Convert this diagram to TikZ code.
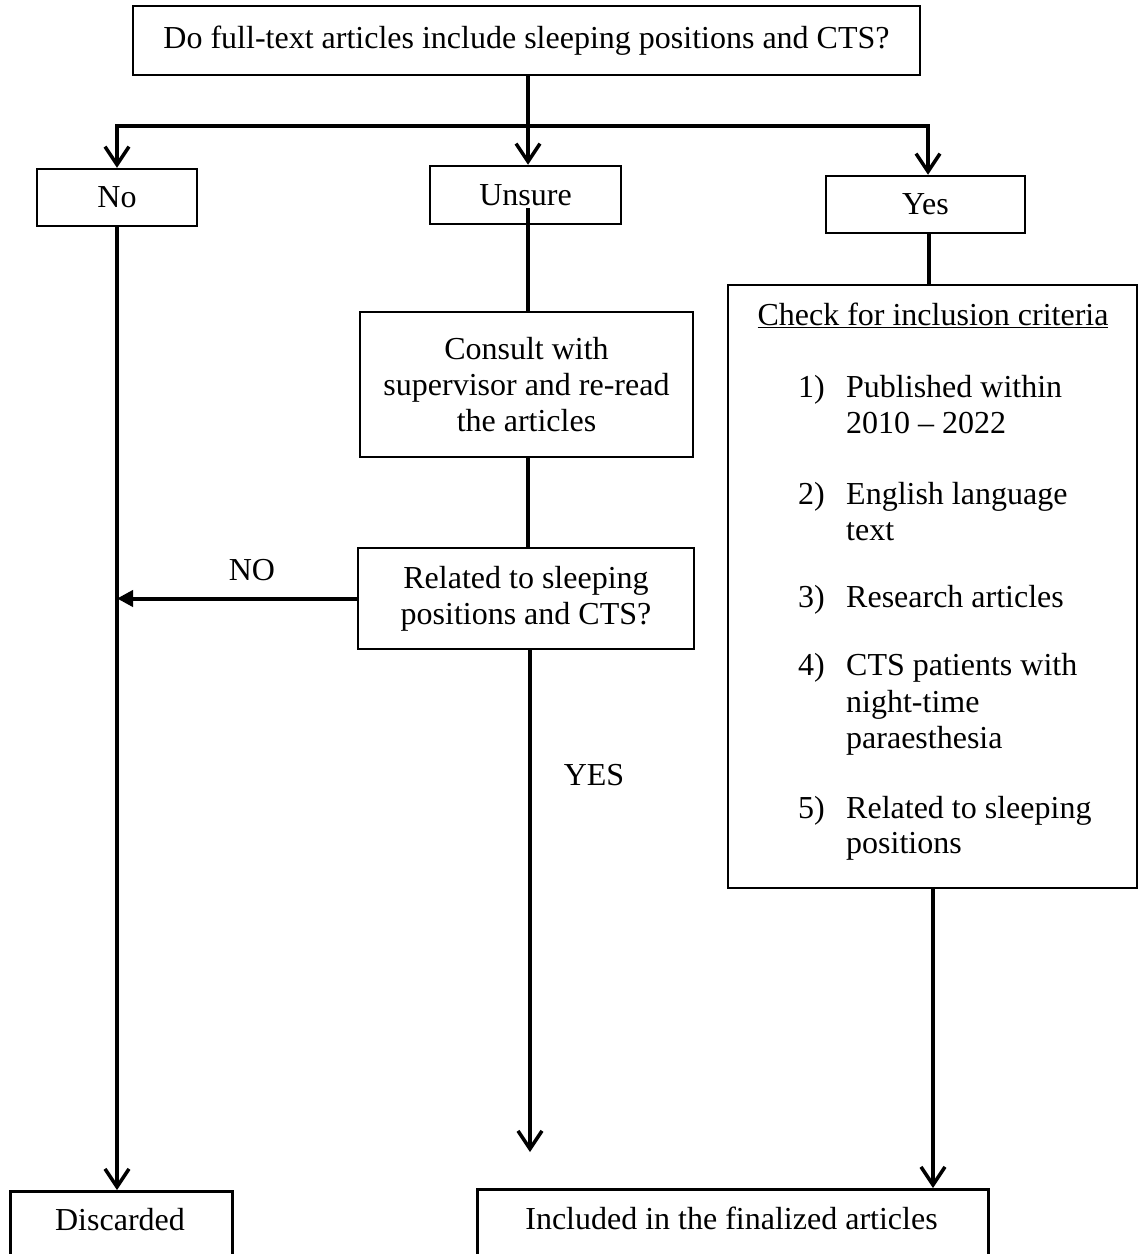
\documentclass[tikz,border=0pt]{standalone}
\usepackage{fontspec}
\setmainfont{Liberation Serif}
\usetikzlibrary{arrows.meta}
\begin{document}
\begin{tikzpicture}[x=1pt,y=-1pt,
  box/.style={draw, line width=2.5pt, inner sep=0pt, align=center, font=\fontsize{32}{36}\selectfont},
  txt/.style={inner sep=0pt, font=\fontsize{32}{36}\selectfont},
  conn/.style={line width=4pt},
  varrow/.style={conn, -{Straight Barb[length=18pt,width=24pt,line width=3.5pt]}},
  farrow/.style={conn, -{Triangle[length=16pt,width=16pt]}},
]
\useasboundingbox (0,0) rectangle (1139,1254);

% boxes
\node[box, minimum width=787pt, minimum height=69pt] (top) at (526.5,40.5) {Do full-text articles include sleeping positions and CTS?};
\node[box, minimum width=160pt, minimum height=57pt] (no) at (117,197.5) {No};
\node[box, minimum width=191pt, minimum height=58pt] (unsure) at (525.5,195) {Unsure};
\node[box, minimum width=199pt, minimum height=57pt] (yes) at (925.5,204.5) {Yes};
\node[box, minimum width=333pt, minimum height=145pt] (consult) at (526.5,384.5) {Consult with\\supervisor and re-read\\the articles};
\node[box, minimum width=336pt, minimum height=101pt] (related) at (526,598.5) {Related to sleeping\\positions and CTS?};
\node[box, minimum width=409pt, minimum height=603pt] (check) at (932.5,586.5) {};
\node[box, minimum width=222pt, minimum height=100pt, anchor=north west] (disc) at (9,1190) {};
\node[box, minimum width=511pt, minimum height=100pt, anchor=north west] (incl) at (476,1188) {};

% texts in bottom boxes
\node[txt, anchor=base] (disct) at (120,1230) {Discarded};
\node[txt, anchor=base] (inclt) at (731.5,1229) {Included in the finalized articles};

% check box content
\node[txt, anchor=base] (ctitle) at (933,325) {\underline{Check for inclusion criteria}};
\node[txt, anchor=base west] (n1) at (798,397) {1)};
\node[txt, anchor=base west] (t1a) at (846,397) {Published within};
\node[txt, anchor=base west] (t1b) at (846,433) {2010 – 2022};
\node[txt, anchor=base west] (n2) at (798,504) {2)};
\node[txt, anchor=base west] (t2a) at (846,504) {English language};
\node[txt, anchor=base west] (t2b) at (846,540) {text};
\node[txt, anchor=base west] (n3) at (798,607) {3)};
\node[txt, anchor=base west] (t3a) at (846,607) {Research articles};
\node[txt, anchor=base west] (n4) at (798,675) {4)};
\node[txt, anchor=base west] (t4a) at (846,675) {CTS patients with};
\node[txt, anchor=base west] (t4b) at (846,712) {night-time};
\node[txt, anchor=base west] (t4c) at (846,748) {paraesthesia};
\node[txt, anchor=base west] (n5) at (798,818) {5)};
\node[txt, anchor=base west] (t5a) at (846,818) {Related to sleeping};
\node[txt, anchor=base west] (t5b) at (846,853) {positions};

% labels
\node[txt, anchor=base] (nolab) at (252,580) {NO};
\node[txt, anchor=base] (yeslab) at (594,785) {YES};

% connector helper coordinates
\coordinate (jc) at (528,126);
\coordinate (jl) at (117,126);
\coordinate (jr) at (928,126);
\coordinate (us) at (528,208);
\coordinate (ybot) at (530,1152);
\coordinate (xr) at (933,1188);

% connectors
\draw[varrow] (jc |- top.south) -- (jc |- unsure.north);
\draw[varrow] (jc) -- (jl) -- (jl |- no.north);
\draw[varrow] (jc) -- (jr) -- (jr |- yes.north);
\draw[conn] (us) -- (us |- consult.north);
\draw[conn] (us |- consult.south) -- (us |- related.north);
\draw[farrow] (related.west) -- (related.west -| jl);
\draw[varrow] (ybot |- related.south) -- (ybot);
\draw[conn] ([xshift=1pt]jr |- yes.south) -- ([xshift=1pt]jr |- check.north);
\draw[varrow] (xr |- check.south) -- (xr |- incl.north);
\draw[varrow] (jl |- no.south) -- (jl |- disc.north);
\end{tikzpicture}
\end{document}
